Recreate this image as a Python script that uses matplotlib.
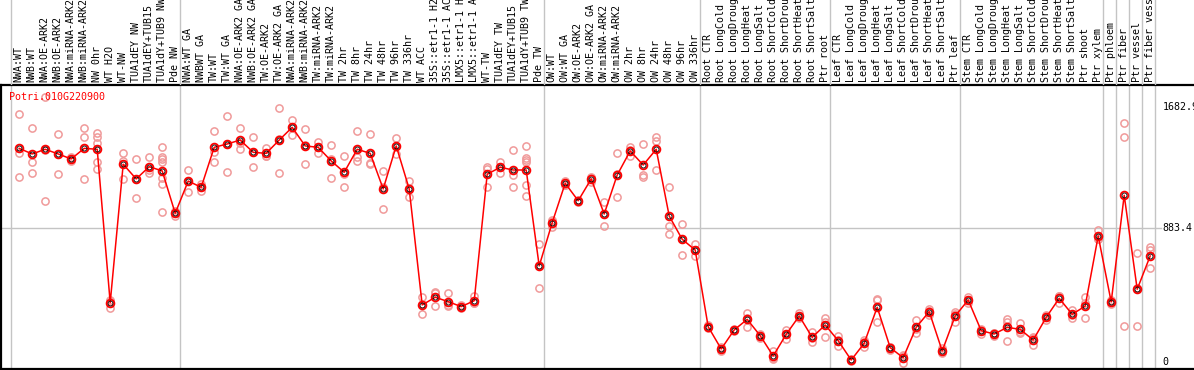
import matplotlib
matplotlib.use("Agg")
import matplotlib.pyplot as plt

labels = [
    "NWA:WT", "NWB:WT", "NWA:OE-ARK2", "NWB:OE-ARK2", "NWA:miRNA-ARK2", "NWB:miRNA-ARK2",
    "NW 0hr", "WT H2O", "WT-NW", "TUA1dEY NW", "TUA1dEY+TUB15", "TUA1dY+TUB9 NW", "Pde NW",
    "NWA:WT GA", "NWBWT GA", "TW:WT", "TW:WT GA", "NWA:OE-ARK2 GA", "NWB:OE-ARK2 GA",
    "TW:OE-ARK2", "TW:OE-ARK2 GA", "NWA:miRNA-ARK2", "NWB:miRNA-ARK2", "TW:miRNA-ARK2",
    "TW:miRNA-ARK2", "TW 2hr", "TW 8hr", "TW 24hr", "TW 48hr", "TW 96hr", "TW 336hr",
    "WT ACC", "35S::etr1-1 H2O", "35S::etr1-1 ACC", "LMX5::etr1-1 H2O", "LMX5::etr1-1 ACC",
    "WT-TW", "TUA1dEY TW", "TUA1dEY+TUB15", "TUA1dY+TUB9 TW", "Pde TW",
    "OW:WT", "OW:WT GA", "OW:OE-ARK2", "OW:OE-ARK2 GA", "OW:miRNA-ARK2", "OW:miRNA-ARK2",
    "OW 2hr", "OW 8hr", "OW 24hr", "OW 48hr", "OW 96hr", "OW 336hr",
    "Root CTR", "Root LongCold", "Root LongDrought", "Root LongHeat", "Root LongSalt",
    "Root ShortCold", "Root ShortDrought", "Root ShortHeat", "Root ShortSalt", "Ptr root",
    "Leaf CTR", "Leaf LongCold", "Leaf LongDrought", "Leaf LongHeat", "Leaf LongSalt",
    "Leaf ShortCold", "Leaf ShortDrought", "Leaf ShortHeat", "Leaf ShortSalt", "Ptr leaf",
    "Stem CTR", "Stem LongCold", "Stem LongDrought", "Stem LongHeat", "Stem LongSalt",
    "Stem ShortCold", "Stem ShortDrought", "Stem ShortHeat", "Stem ShortSalt", "Ptr shoot",
    "Ptr xylem", "Ptr phloem", "Ptr fiber", "Ptr vessel", "Ptr fiber vessel",
]

means = [
    1410, 1373, 1404, 1373, 1340, 1410, 1404, 390, 1305, 1208, 1289, 1261, 981,
    1194, 1153, 1417, 1439, 1465, 1384, 1377, 1465, 1549, 1426, 1417, 1327, 1252,
    1404, 1377, 1142, 1426, 1142, 375, 426, 397, 364, 403, 1239, 1285, 1267, 1267, 633,
    919, 1179, 1064, 1208, 976, 1234, 1393, 1300, 1404, 963, 809, 738,
    231, 84, 210, 280, 172, 38, 181, 302, 161, 243,
    139, 11, 122, 360, 93, 26, 227, 331, 71, 302,
    408, 205, 183, 227, 214, 143, 293, 419, 313, 368, 831,
    395, 1100, 479, 699,
]

replicates = [
    [1637, 1377, 1219], [1543, 1318, 1245], [1748, 1402, 1062], [1503, 1241, 1375],
    [1355, 1340, 1325], [1543, 1487, 1208], [1514, 1487, 1444, 1322, 1272], [403, 357, 410],
    [1377, 1327, 1208], [1338, 1208, 1082], [1351, 1267, 1249],
    [1417, 1355, 1338, 1322, 1216, 1173, 988], [998, 963, 981],
    [1267, 1120, 1194], [1173, 1130, 1155], [1523, 1384, 1322], [1624, 1439, 1252],
    [1543, 1448, 1404], [1483, 1285, 1384], [1410, 1360, 1361], [1675, 1245, 1475],
    [1598, 1498, 1551], [1536, 1307, 1435], [1454, 1377, 1420], [1432, 1212, 1337],
    [1360, 1239, 1153], [1523, 1355, 1329], [1505, 1315, 1307], [1261, 1157, 1009],
    [1477, 1373, 1428], [1194, 1087, 1145], [430, 315, 380], [463, 456, 368],
    [456, 375, 368], [353, 375, 364], [434, 390, 385], [1289, 1153, 1275],
    [1322, 1245, 1288], [1399, 1234, 1153], [1426, 1345, 1333, 1322, 1168, 1097],
    [778, 485, 636],
    [937, 888, 932], [1197, 1170, 1170], [1070, 1064, 1058], [1212, 1190, 1220],
    [1054, 897, 977], [1377, 1087, 1238], [1417, 1360, 1402], [1439, 1234, 1219],
    [1483, 1461, 1267], [1153, 897, 844], [908, 705, 814], [778, 699, 737],
    [240, 231, 222], [95, 84, 73], [215, 210, 205], [320, 231, 289], [185, 172, 159],
    [71, 16, 27], [210, 181, 152], [320, 296, 290], [198, 132, 154], [287, 265, 165],
    [170, 104, 143], [11, 5, 17], [143, 95, 128], [408, 260, 412], [80, 100, 99],
    [-7, 40, 45], [276, 188, 217], [350, 306, 337], [88, 55, 70], [331, 260, 315],
    [430, 386, 408], [212, 185, 218], [190, 172, 187], [280, 139, 262], [254, 192, 196],
    [161, 110, 158], [309, 276, 294], [434, 390, 433], [342, 287, 310], [430, 287, 386],
    [871, 809, 813],
    [408, 380, 397], [1576, 1483, 236], [717, 236, 484], [756, 738, 617],
]

# first column index of each group (separator lines)
group_starts = [0, 13, 41, 53, 63, 73, 84, 85, 86, 87, 88]
y_ticks = [1682.9, 883.4, 0]
gene = "Potri.010G220900"

W, H = 1194, 370
fig = plt.figure(figsize=(W / 100, H / 100), dpi=100)
fig.patch.set_facecolor("white")

# plot area: pixels x 1..1194, y 85..369
ax = fig.add_axes([1 / W, 1 / H, 1193 / W, 284 / H])
hax = fig.add_axes([1 / W, 285 / H, 1193 / W, 85 / H])

xlim = ((1 - 19.2) / 13, (1194 - 19.2) / 13)
ax.set_xlim(*xlim)
hax.set_xlim(*xlim)
ax.set_ylim(-48.2, 1828.8)
hax.set_ylim(0, 1)

grid_c = "#c4c4c4"
for g in group_starts:
    ax.axvline(g - 0.654, color=grid_c, lw=1, zorder=1)
    hax.axvline(g - 0.654, color=grid_c, lw=1, zorder=1)
ax.axhline(883.4, xmin=0, xmax=0.972, color=grid_c, lw=1, zorder=1)

mono = "DejaVu Sans Mono"
for i, lab in enumerate(labels):
    hax.text(i - 0.05, 0.03, lab, rotation=90, ha="center", va="bottom",
             fontsize=7.2, family=mono, color="black")

xs = list(range(len(means)))
for i, reps in enumerate(replicates):
    ax.plot([i] * len(reps), reps, "o", ms=5.2, mfc="none", mec="#f09a9a",
            mew=1.1, zorder=2, clip_on=False)

ax.plot(xs, means, "-", color="red", lw=1.1, zorder=3)
ax.plot(xs, means, "o", ms=5.6, mfc="none", mec="red", mew=1.3, zorder=4)
ax.plot(xs, means, "o", ms=3.6, mfc="none", mec="black", mew=0.6, zorder=5)

for v in y_ticks:
    ax.text(0.9735, v, ("%g" % v) if v else "0", transform=ax.get_yaxis_transform(),
            ha="left", va="center", fontsize=7.2, family=mono, color="black")

ax.text(8 / 1193, 0.958, gene, transform=ax.transAxes, ha="left", va="center",
        fontsize=7.2, family=mono, color="red")

for a in (ax, hax):
    a.set_xticks([])
    a.set_yticks([])
    a.set_facecolor("none")
for s in ("right",):
    ax.spines[s].set_visible(False)
for s in ("left", "right", "top", "bottom"):
    hax.spines[s].set_visible(False)
ax.spines["top"].set_linewidth(1.6)
ax.spines["bottom"].set_linewidth(1.6)
ax.spines["left"].set_linewidth(1.6)

fig.savefig("out.png", dpi=100)
